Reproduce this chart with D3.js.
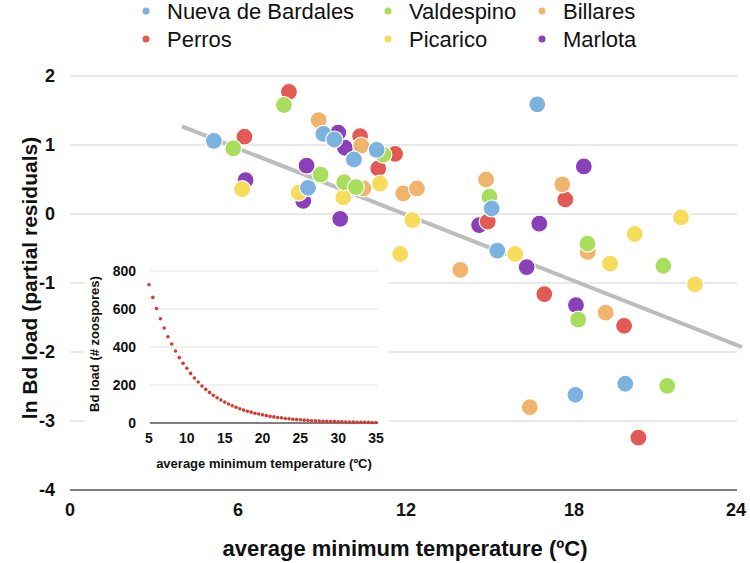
<!DOCTYPE html>
<html><head><meta charset="utf-8">
<script src="https://cdn.jsdelivr.net/npm/d3@7"></script>
<style>body{margin:0;background:#fff}svg{display:block}text{font-family:"Liberation Sans",Arial,sans-serif}</style>
</head><body><svg id="c" width="750" height="563"></svg>
<script>
const sites = ["Nueva de Bardales","Perros","Valdespino","Picarico","Billares","Marlota"];
const colors = ["#7cb2e0","#e35a55","#a8de5c","#f7dc5c","#f1b46c","#8a40b8"];
// [temperature, ln Bd partial residual]
const nuevaDeBardales = [[5.14,1.06],[9.05,1.16],[9.44,1.08],[10.95,0.93],[10.14,0.79],[8.5,0.38],[16.69,1.59],[15.06,0.08],[15.26,-0.53],[19.83,-2.46],[18.05,-2.62]];
const perros = [[7.82,1.77],[6.23,1.12],[10.36,1.13],[11.61,0.87],[11.01,0.66],[14.92,-0.11],[17.69,0.21],[16.94,-1.16],[19.79,-1.62],[20.3,-3.24]];
const valdespino = [[7.64,1.58],[5.83,0.95],[11.19,0.86],[8.95,0.57],[9.79,0.46],[10.21,0.39],[14.98,0.25],[18.48,-0.43],[21.19,-0.75],[18.15,-1.53],[21.33,-2.49]];
const picarico = [[6.15,0.36],[8.17,0.31],[9.76,0.24],[11.07,0.44],[12.23,-0.09],[11.79,-0.58],[15.9,-0.58],[19.29,-0.72],[20.17,-0.29],[21.82,-0.05],[22.32,-1.02]];
const billares = [[8.88,1.36],[10.40,0.99],[10.48,0.37],[11.9,0.30],[12.39,0.37],[14.86,0.50],[13.94,-0.81],[17.58,0.43],[18.49,-0.55],[19.13,-1.43],[16.42,-2.80]];
const marlota = [[6.27,0.49],[9.58,1.18],[9.82,0.96],[8.45,0.70],[8.33,0.19],[9.65,-0.07],[14.61,-0.16],[16.31,-0.77],[16.76,-0.14],[18.35,0.69],[18.07,-1.32]];
const fitLine = [[4,1.27],[24,-1.93]];
const xTicks = [0,6,12,18,24];
const yTicks = [-4,-3,-2,-1,0,1,2];
// inset
const insetTemp = d3.range(5, 35.01, 0.5);
const insetLoad = [728,661,602,549,500,454,416,379,344,314,288,261,237,216,195,177,161,146,133,121,110,100,91,83,75,68,62,57,51,47,43,39,35,32,29,27,24,22,20,18,17,15,14,12,11,10,9,8.5,7.5,7,6.5,6,5.5,5,4.5,4,3.7,3.4,3.1,2.8,2.5];
const insetXTicks = [5,10,15,20,25,30,35];
const insetYTicks = [0,200,400,600,800];

const svg = d3.select("#c");
const x = d3.scaleLinear().domain([0,24]).range([70,742]);
const y = d3.scaleLinear().domain([-4,2]).range([490,76]);

// gridlines
svg.append("g").selectAll("line").data(yTicks.filter(d=>d>-4)).join("line")
  .attr("x1",70).attr("x2",737).attr("y1",d=>y(d)).attr("y2",d=>y(d))
  .attr("stroke","#e2e2e2").attr("stroke-width",1.5);
svg.append("line").attr("x1",70).attr("x2",737).attr("y1",y(-4)).attr("y2",y(-4))
  .attr("stroke","#555").attr("stroke-width",1.5);

// axis labels
svg.append("g").selectAll("text").data(yTicks).join("text")
  .attr("x",55).attr("y",d=>y(d)).attr("dy","0.36em").attr("text-anchor","end")
  .attr("font-size",18).attr("font-weight","bold").attr("fill","#111").text(d=>d);
svg.append("g").selectAll("text").data(xTicks).join("text")
  .attr("x",d=>Math.min(x(d),736)).attr("y",516).attr("text-anchor","middle")
  .attr("font-size",18).attr("font-weight","bold").attr("fill","#111").text(d=>d);
svg.append("text").attr("x",405).attr("y",556).attr("text-anchor","middle")
  .attr("font-size",22).attr("font-weight","bold").attr("fill","#111")
  .text("average minimum temperature (ºC)");
svg.append("text").attr("transform","translate(37,278) rotate(-90)").attr("text-anchor","middle")
  .attr("font-size",21).attr("font-weight","bold").attr("fill","#111")
  .text("ln Bd load (partial residuals)");

// inset
const ix = d3.scaleLinear().domain([5,35]).range([149,376]);
const iy = d3.scaleLinear().domain([0,800]).range([423,271]);
svg.append("rect").attr("x",85).attr("y",246).attr("width",304).attr("height",232).attr("fill","#fff");
svg.append("g").selectAll("line").data(insetYTicks.filter(d=>d>0)).join("line")
  .attr("x1",150).attr("x2",378).attr("y1",d=>iy(d)).attr("y2",d=>iy(d))
  .attr("stroke","#e2e2e2").attr("stroke-width",1.2);
svg.append("line").attr("x1",150).attr("x2",378).attr("y1",iy(0)).attr("y2",iy(0))
  .attr("stroke","#555").attr("stroke-width",1.5);
svg.append("g").selectAll("text").data(insetYTicks).join("text")
  .attr("x",136).attr("y",d=>iy(d)).attr("dy","0.36em").attr("text-anchor","end")
  .attr("font-size",14).attr("font-weight","bold").attr("fill","#111").text(d=>d);
svg.append("g").selectAll("text").data(insetXTicks).join("text")
  .attr("x",d=>ix(d)).attr("y",443).attr("text-anchor","middle")
  .attr("font-size",14).attr("font-weight","bold").attr("fill","#111").text(d=>d);
svg.append("text").attr("x",264).attr("y",468).attr("text-anchor","middle")
  .attr("font-size",13).attr("font-weight","bold").attr("fill","#111")
  .text("average minimum temperature (ºC)");
svg.append("text").attr("transform","translate(99,344) rotate(-90)").attr("text-anchor","middle")
  .attr("font-size",13).attr("font-weight","bold").attr("fill","#111")
  .text("Bd load (# zoospores)");
svg.append("g").selectAll("circle").data(insetTemp.map((t,i)=>[t,insetLoad[i]])).join("circle")
  .attr("cx",d=>ix(d[0])).attr("cy",d=>iy(d[1])).attr("r",1.8).attr("fill","#d33b33");

// fit line
svg.append("line").attr("x1",x(fitLine[0][0])).attr("y1",y(fitLine[0][1]))
  .attr("x2",x(fitLine[1][0])).attr("y2",y(fitLine[1][1]))
  .attr("stroke","#bcbcbc").attr("stroke-width",4);

// points, drawing order
const seriesData = {"Nueva de Bardales":nuevaDeBardales,"Perros":perros,"Valdespino":valdespino,"Picarico":picarico,"Billares":billares,"Marlota":marlota};
const order = ["Marlota","Perros","Billares","Picarico","Valdespino","Nueva de Bardales"];
order.forEach(s=>{
  const c = colors[sites.indexOf(s)];
  svg.append("g").selectAll("circle").data(seriesData[s]).join("circle")
    .attr("cx",d=>x(d[0])).attr("cy",d=>y(d[1])).attr("r",8.5)
    .attr("fill",c).attr("stroke","#fff").attr("stroke-width",1.2);
});

// legend
const legendPos = [[146,11],[146,39],[388,11],[388,39],[542,11],[542,39]];
const lg = svg.append("g").selectAll("g").data(sites).join("g")
  .attr("transform",(d,i)=>`translate(${legendPos[i][0]},${legendPos[i][1]})`);
lg.append("circle").attr("r",3.5).attr("fill",(d,i)=>colors[i]);
lg.append("text").attr("x",21).attr("dy","0.36em").attr("font-size",22).attr("fill","#111").text(d=>d);
</script></body></html>
